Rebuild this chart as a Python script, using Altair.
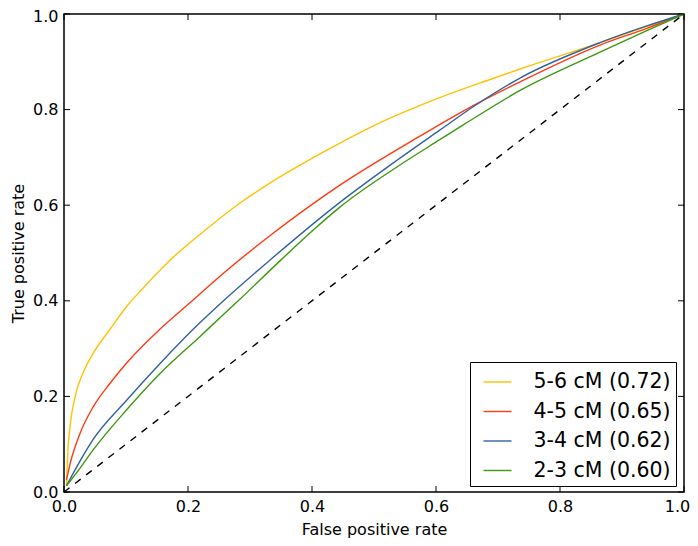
import altair as alt
import pandas as pd

FONT = "DejaVu Sans"

series_names = ["5-6 cM (0.72)", "4-5 cM (0.65)", "3-4 cM (0.62)", "2-3 cM (0.60)"]
series_colors = ["#FFC200", "#FF3A10", "#31629E", "#3C9A0E"]

fpr_56 = [0.004, 0.006, 0.010, 0.018, 0.031, 0.047, 0.074, 0.101, 0.125, 0.171, 0.225,
          0.279, 0.332, 0.424, 0.499, 0.606, 0.687, 0.7355, 0.8645, 0.913, 1.0]
tpr_56 = [0.013, 0.080, 0.140, 0.200, 0.250, 0.290, 0.340, 0.388, 0.423, 0.485, 0.545,
          0.600, 0.646, 0.715, 0.766, 0.825, 0.863, 0.885, 0.940, 0.962, 1.0]

fpr_45 = [0.004, 0.010, 0.026, 0.047, 0.074, 0.101, 0.155, 0.205, 0.252, 0.332, 0.445,
          0.563, 0.644, 0.7355, 0.8645, 0.940, 1.0]
tpr_45 = [0.025, 0.060, 0.123, 0.178, 0.227, 0.270, 0.341, 0.398, 0.452, 0.536, 0.642,
          0.736, 0.797, 0.858, 0.935, 0.970, 1.0]

fpr_34 = [0.004, 0.026, 0.047, 0.101, 0.155, 0.219, 0.252, 0.332, 0.445, 0.537, 0.606,
          0.660, 0.7355, 0.8645, 0.940, 1.0]
tpr_34 = [0.013, 0.065, 0.110, 0.192, 0.269, 0.354, 0.394, 0.485, 0.606, 0.694, 0.757,
          0.806, 0.866, 0.940, 0.975, 1.0]

fpr_23 = [0.004, 0.026, 0.047, 0.101, 0.155, 0.219, 0.252, 0.281, 0.348, 0.402, 0.445,
          0.537, 0.606, 0.644, 0.7355, 0.8645, 0.940, 1.0]
tpr_23 = [0.013, 0.050, 0.088, 0.172, 0.248, 0.325, 0.365, 0.400, 0.483, 0.548, 0.596,
          0.680, 0.737, 0.768, 0.840, 0.920, 0.965, 1.0]

diag_x = [0.0, 1.0]
diag_y = [0.0, 1.0]

tick_values = [0.0, 0.2, 0.4, 0.6, 0.8, 1.0]

rows = []
for name, xs, ys in zip(series_names,
                        [fpr_56, fpr_45, fpr_34, fpr_23],
                        [tpr_56, tpr_45, tpr_34, tpr_23]):
    for i, (a, b) in enumerate(zip(xs, ys)):
        rows.append({"fpr": a, "tpr": b, "series": name, "idx": i})
curves = pd.DataFrame(rows)
diag = pd.DataFrame({"fpr": diag_x, "tpr": diag_y, "idx": [0, 1]})
xticks = pd.DataFrame({"fpr": tick_values})
yticks = pd.DataFrame({"tpr": tick_values})

W, H = 620, 478

x_scale = alt.Scale(domain=[0, 1], nice=False, zero=False)
y_scale = alt.Scale(domain=[0, 1], nice=False, zero=False)

x_axis = alt.Axis(title="False positive rate", values=tick_values, format=".1f",
                  labelFlush=False, labelOverlap=False, domain=False, grid=False,
                  ticks=False, tickSize=0, labelPadding=6, labelFont=FONT,
                  labelFontSize=16, labelColor="black", titleFont=FONT,
                  titleFontSize=16, titleFontWeight="normal", titleColor="black",
                  titlePadding=7,
                  labelOffset={"condition": {"test": "datum.value == 1", "value": -7},
                               "value": 0})
y_axis = alt.Axis(title="True positive rate", values=tick_values, format=".1f",
                  labelFlush=False, labelOverlap=False, domain=False, grid=False,
                  ticks=False, tickSize=0, labelPadding=6, labelFont=FONT,
                  labelFontSize=16, labelColor="black", titleFont=FONT,
                  titleFontSize=16, titleFontWeight="normal", titleColor="black",
                  titlePadding=6,
                  labelOffset={"condition": {"test": "datum.value == 1", "value": 2},
                               "value": 0})

X = alt.X("fpr:Q", scale=x_scale, axis=x_axis)
Y = alt.Y("tpr:Q", scale=y_scale, axis=y_axis)

lines = alt.Chart(curves).mark_line(strokeWidth=1.4, interpolate="monotone").encode(
    x=X, y=Y,
    color=alt.Color("series:N",
                    scale=alt.Scale(domain=series_names, range=series_colors),
                    sort=series_names,
                    legend=alt.Legend(title=None, orient="none", legendX=406, legendY=348,
                                      fillColor="white", strokeColor="black",
                                      padding=5, symbolType="stroke", symbolSize=784,
                                      symbolStrokeWidth=1.4, symbolOffset=7.5,
                                      labelOffset=21, labelFont=FONT, labelFontSize=20.5,
                                      labelColor="black", rowPadding=3.5, labelLimit=400)),
    order=alt.Order("idx:Q"),
)

diagonal = alt.Chart(diag).mark_line(color="black", strokeWidth=1.4, strokeDash=[7, 7]).encode(
    x=X, y=Y, order=alt.Order("idx:Q")
)

tick_style = dict(color="black", strokeWidth=1)
bottom_ticks = alt.Chart(xticks).mark_rule(**tick_style).encode(
    x=X, y=alt.value(H), y2=alt.value(H - 6))
top_ticks = alt.Chart(xticks).mark_rule(**tick_style).encode(
    x=X, y=alt.value(0), y2=alt.value(6))
left_ticks = alt.Chart(yticks).mark_rule(**tick_style).encode(
    y=Y, x=alt.value(0), x2=alt.value(6))
right_ticks = alt.Chart(yticks).mark_rule(**tick_style).encode(
    y=Y, x=alt.value(W), x2=alt.value(W - 6))

chart = alt.layer(lines, diagonal, bottom_ticks, top_ticks, left_ticks, right_ticks).properties(
    width=W, height=H,
    autosize=alt.AutoSizeParams(type="none"),
    padding={"left": 56, "top": 6, "right": 6, "bottom": 46},
    background="white",
).configure_view(stroke="black", strokeWidth=1.5)

chart.save("out.html", embed_options={"renderer": "svg", "actions": False})
